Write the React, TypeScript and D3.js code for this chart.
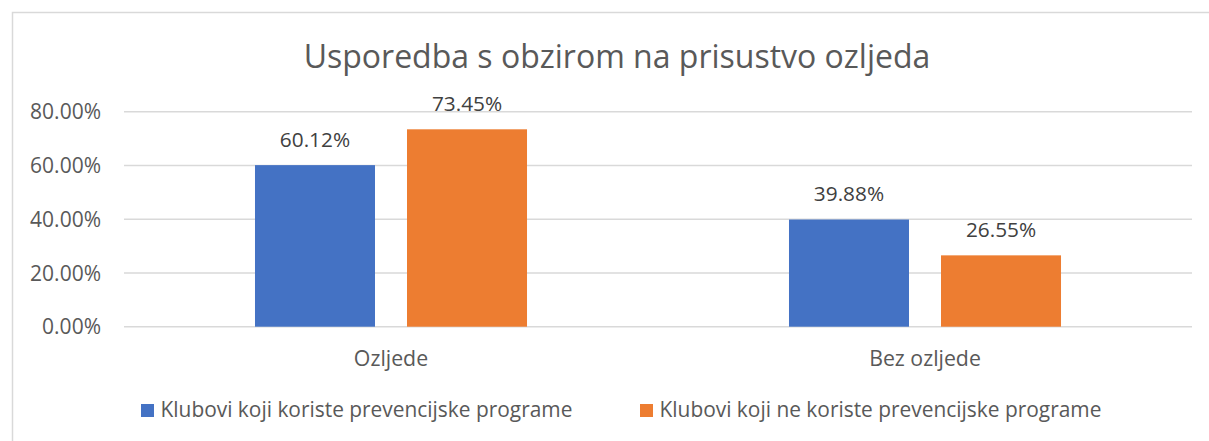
import { useEffect, useRef } from "react";
import * as d3 from "d3";

const categories = ["Ozljede", "Bez ozljede"];
const seriesNames = [
  "Klubovi koji koriste prevencijske programe",
  "Klubovi koji ne koriste prevencijske programe",
];
const usingProgram = [0.6012, 0.3988];
const notUsingProgram = [0.7345, 0.2655];
const yTicks = [0, 0.2, 0.4, 0.6, 0.8];
const colors = ["#4472C4", "#ED7D31"];

const W = 1209;
const H = 441;
const FONT = "'Open Sans', 'Noto Sans', sans-serif";

const App = () => {
  const svgRef = useRef(null);

  useEffect(() => {
    const svg = d3.select(svgRef.current);
    svg.selectAll("*").remove();

    // chart frame (runs past the right/bottom edge like the screenshot)
    svg.append("rect")
      .attr("x", 12.5).attr("y", 12.5)
      .attr("width", 1300).attr("height", 600)
      .attr("fill", "#fff")
      .attr("stroke", "#d9d9d9")
      .attr("stroke-width", 1.5);

    svg.append("text")
      .attr("x", 617).attr("y", 67.5)
      .attr("text-anchor", "middle")
      .style("font-family", FONT)
      .style("font-size", "32px")
      .attr("fill", "#595959")
      .text("Usporedba s obzirom na prisustvo ozljeda");

    const y = d3.scaleLinear().domain([0, 0.8]).range([326.7, 111.7]);
    const x0 = d3.scaleBand().domain(categories).range([124, 1192])
      .paddingInner(0.4906).paddingOuter(0.2453);
    const x1 = d3.scaleBand().domain(["0", "1"]).range([0, x0.bandwidth()])
      .paddingInner(0.2105);

    // gridlines + y labels
    const grid = svg.append("g");
    yTicks.forEach((t) => {
      grid.append("line")
        .attr("x1", 124).attr("x2", 1192)
        .attr("y1", y(t)).attr("y2", y(t))
        .attr("stroke", "#d9d9d9")
        .attr("stroke-width", 1.5);
      grid.append("text")
        .attr("x", 101).attr("y", y(t))
        .attr("dy", "0.36em")
        .attr("text-anchor", "end")
        .style("font-family", FONT)
        .style("font-size", "21px")
        .attr("fill", "#595959")
        .text(d3.format(".2%")(t));
    });

    const rows = categories.map((c, i) => ({
      cat: c,
      vals: [usingProgram[i], notUsingProgram[i]],
    }));

    const groups = svg.append("g")
      .selectAll("g")
      .data(rows)
      .join("g")
      .attr("transform", (d) => `translate(${x0(d.cat)},0)`);

    groups.each(function (d) {
      const g = d3.select(this);
      d.vals.forEach((v, j) => {
        const bx = x1(String(j));
        g.append("rect")
          .attr("x", bx).attr("y", y(v))
          .attr("width", x1.bandwidth())
          .attr("height", y(0) - y(v))
          .attr("fill", colors[j]);
        g.append("text")
          .attr("x", bx + x1.bandwidth() / 2)
          .attr("y", y(v) - 18.5)
          .attr("text-anchor", "middle")
          .style("font-family", FONT)
          .style("font-size", "20.8px")
          .attr("fill", "#404040")
          .text(d3.format(".2%")(v));
      });
      g.append("text")
        .attr("x", x0.bandwidth() / 2)
        .attr("y", 366)
        .attr("text-anchor", "middle")
        .style("font-family", FONT)
        .style("font-size", "21.3px")
        .attr("fill", "#595959")
        .text(d.cat);
    });

    // legend
    const legendX = [141, 640];
    seriesNames.forEach((name, i) => {
      svg.append("rect")
        .attr("x", legendX[i]).attr("y", 404)
        .attr("width", 13).attr("height", 13)
        .attr("fill", colors[i]);
      svg.append("text")
        .attr("x", legendX[i] + 19.5).attr("y", 417)
        .style("font-family", FONT)
        .style("font-size", "20.9px")
        .attr("fill", "#595959")
        .text(name);
    });
  }, []);

  return (
    <svg
      ref={svgRef}
      width={W}
      height={H}
      style={{ position: "absolute", left: 0, top: 0, background: "#fff" }}
    ></svg>
  );
};

export default App;
